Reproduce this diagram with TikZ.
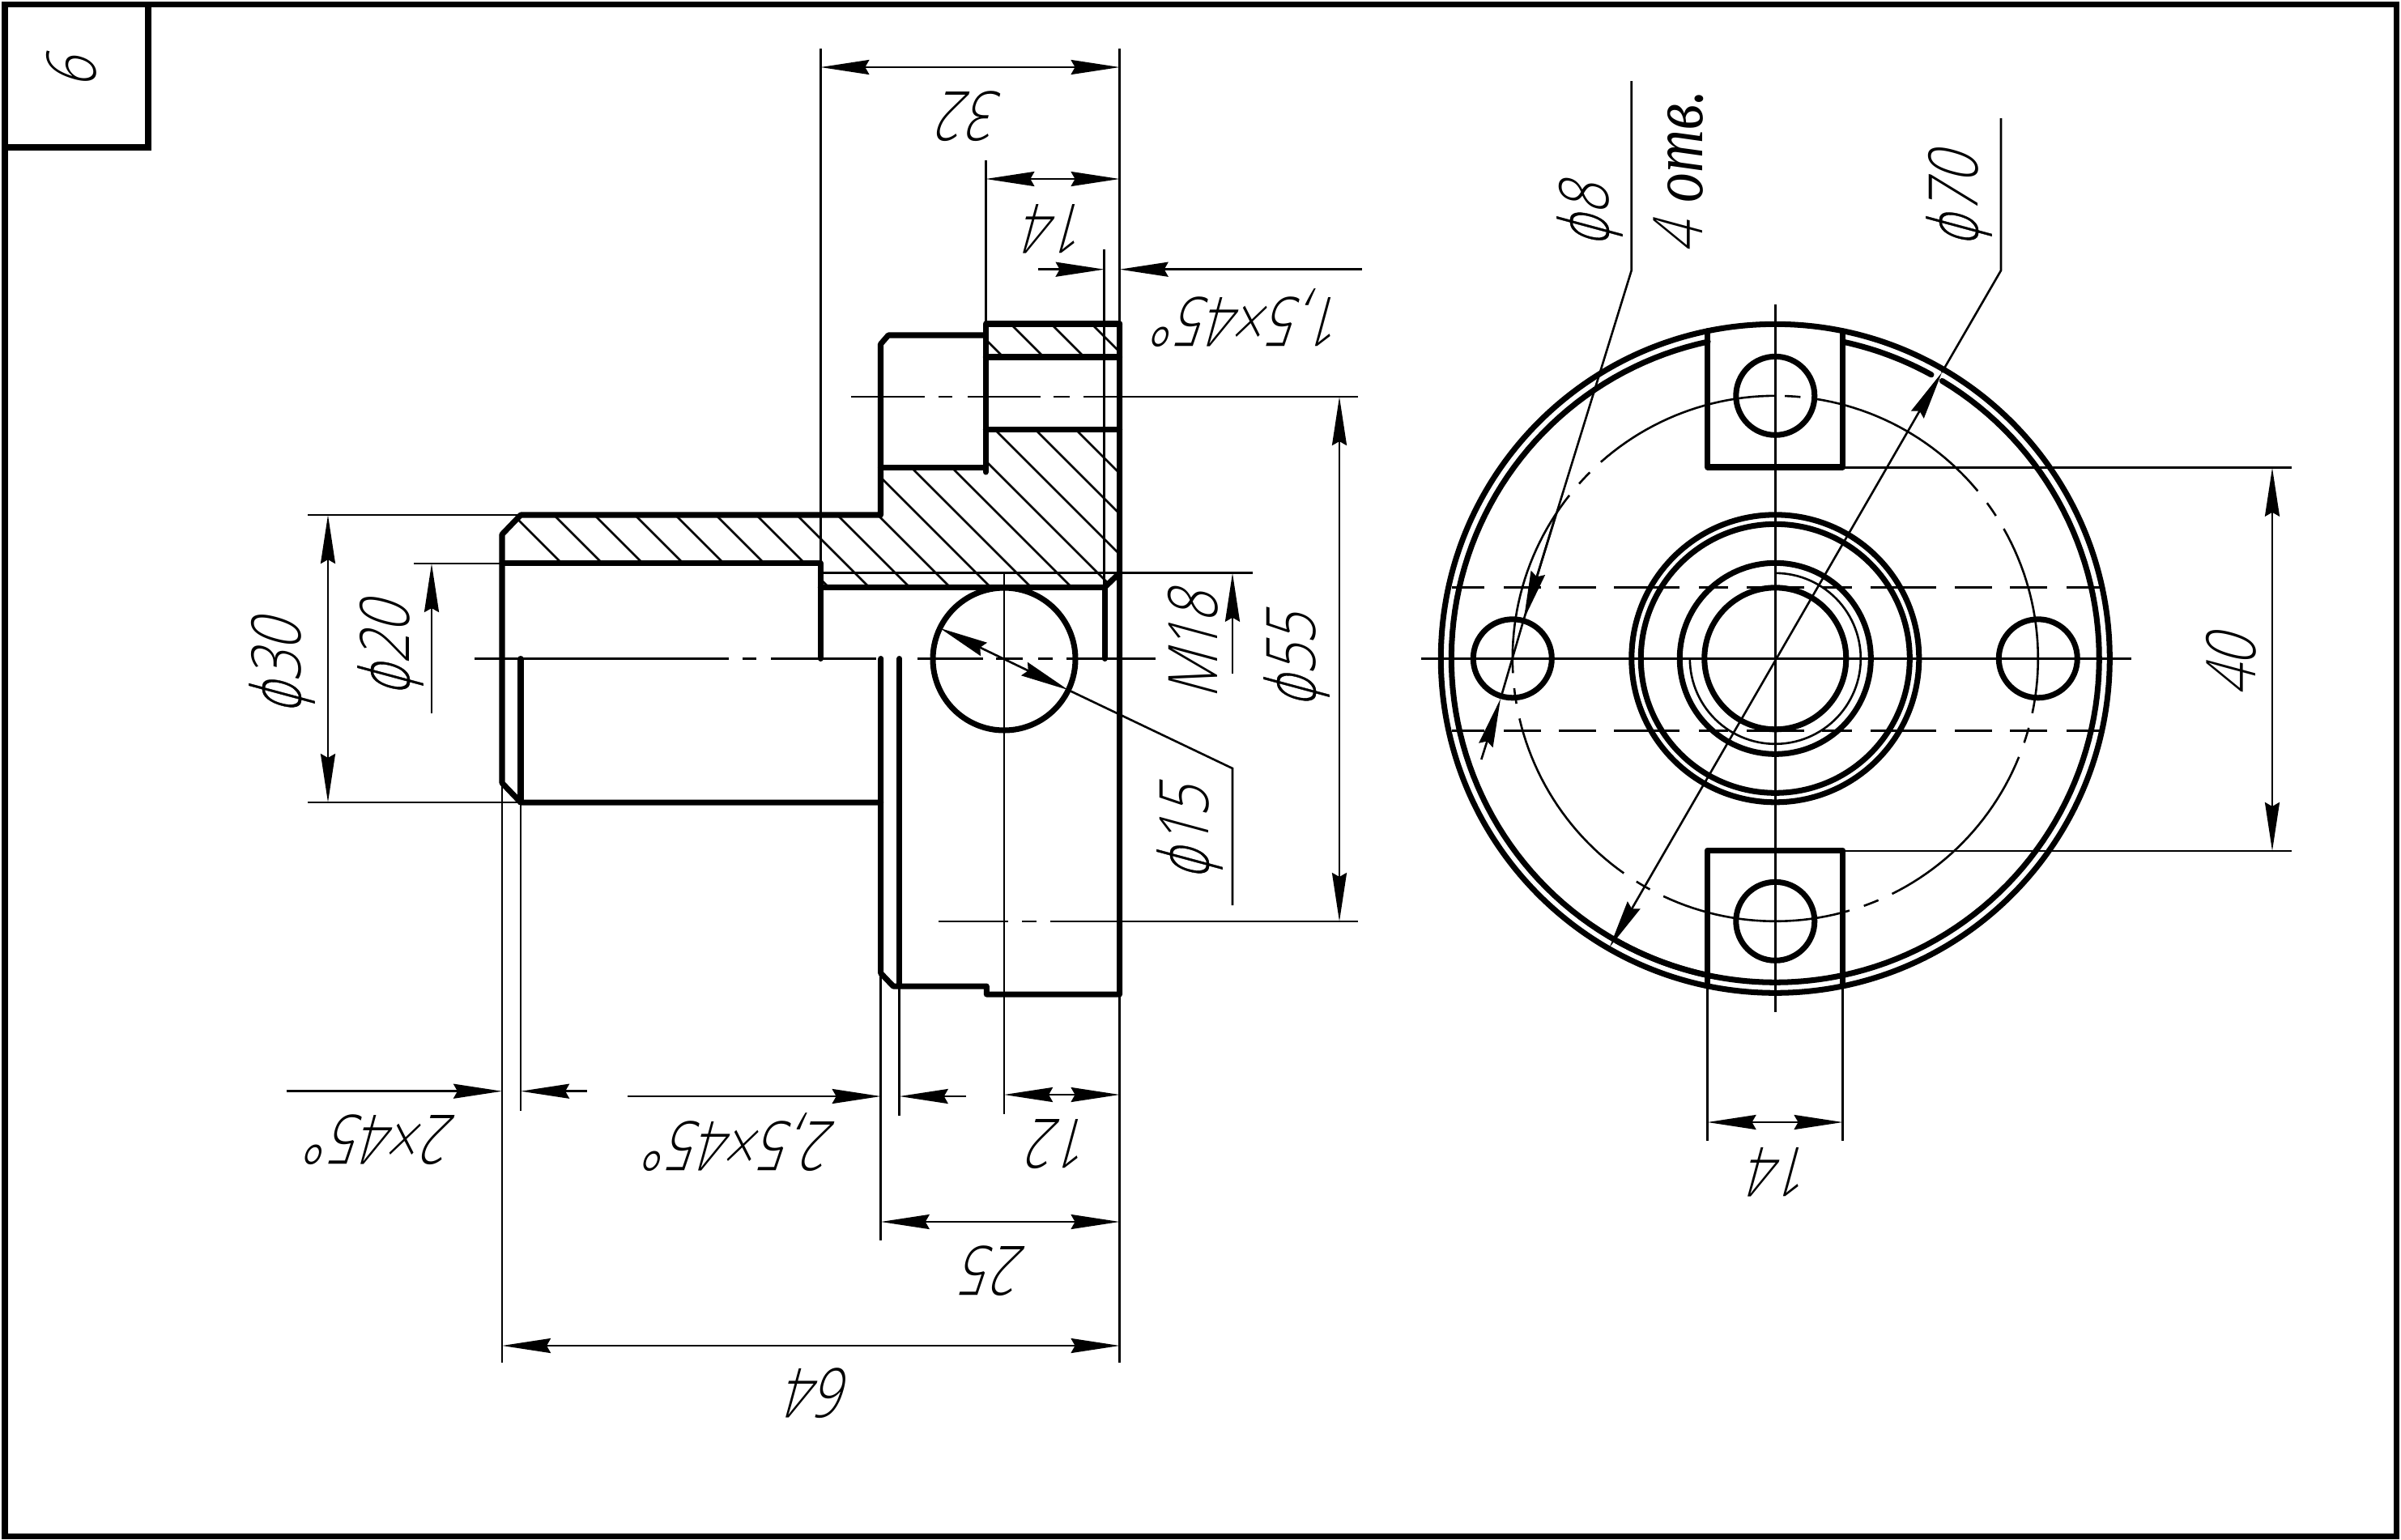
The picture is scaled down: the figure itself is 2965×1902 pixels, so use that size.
\documentclass[tikz,border=0pt]{standalone}
\usepackage{fontspec}
\usetikzlibrary{arrows.meta}
\newfontfamily\gost[FakeStretch=0.78,FakeSlant=0.27]{Open Sans Light}
\newfontfamily\gostphi[FakeStretch=0.72,FakeSlant=0.27,FakeBold=0.4]{DejaVu Sans ExtraLight}
\newfontfamily\gostcyr[FakeStretch=0.8]{Liberation Serif}
\newcommand{\fii}{{\gostphi\fontsize{24}{28}\selectfont ϕ}}
\tikzset{
  x=0.01cm,y=-0.01cm,
  thickl/.style={line width=2pt,line cap=round,line join=round},
  thinl/.style={line width=0.74pt},
  dimar/.style={thinl,{Stealth[length=0.6cm,width=0.18cm,inset=0.05cm]}-{Stealth[length=0.6cm,width=0.18cm,inset=0.05cm]}},
  onear/.style={thinl,-{Stealth[length=0.6cm,width=0.18cm,inset=0.05cm]}},
  lab/.style={font=\gost\fontsize{24}{28}\selectfont,inner sep=0pt},
}
\def\CX{2192.3}\def\CY{813.3}
\begin{document}
\begin{tikzpicture}
\useasboundingbox (0,0) rectangle (2965,1902);
\fill[white] (0,0) rectangle (2965,1902);
% hatching
\begin{scope}
\clip (620,660)--(643,636)--(1087.5,636)--(1087.5,577)--(1217,577)--(1217,530)--(1382,530)--(1382,707)--(1364,725)--(1013,725)--(1013,696)--(620,696)--cycle
      (1217,400)--(1382,400)--(1382,441)--(1217,441)--cycle;
\foreach \c in {-2,48,...,948} \draw[thinl] ({\c+380},380)--({\c+740},740);
\end{scope}
% section: thick outlines
\draw[thickl] (1382.6,400)--(1217.3,400)--(1217.3,583);
\draw[thickl] (1217.3,414)--(1097,414)--(1087.5,425)--(1087.5,636)--(643,636)--(620,660)--(620,967)--(643,991)--(1087.7,991);
\draw[thickl] (1217.3,441)--(1382.6,441);
\draw[thickl] (1217.3,530.3)--(1382.6,530.3);
\draw[thickl] (1087.5,577.3)--(1217.3,577.3);
\draw[thickl] (620,695.5)--(1013.3,695.5)--(1013.3,813.5);
\draw[thickl] (1013.3,725.3)--(1364.2,725.3)--(1382.6,707.7);
\draw[thickl] (1364.2,725.3)--(1364.2,813.5);
\draw[thickl] (643,813.5)--(643,991);
\draw[thickl] (1382.6,400)--(1382.6,1228)--(1218.3,1228)--(1218.3,1218)--(1103,1218)--(1087.7,1202)--(1087.7,813.5);
\draw[thickl] (1110.7,813.5)--(1110.7,1218);
\draw[thickl] (1240,814) circle[radius=88];
% centre lines, front view
\foreach \a/\b in {586/900,917/934,952/1082,1133/1214,1230/1263,1282/1300,1317/1427}
  \draw[thinl] (\a,813.6)--(\b,813.6);
\foreach \a/\b in {1051/1142,1159/1176,1195/1285,1301/1321,1338/1677}
  \draw[thinl] (\a,490)--(\b,490);
\foreach \a/\b in {1159/1245,1262/1280,1297/1677}
  \draw[thinl] (\a,1138)--(\b,1138);
% extension lines, front view
\draw[thinl] (1013.3,60)--(1013.3,696);
\draw[thinl] (1382.6,60)--(1382.6,400);
\draw[thinl] (1217.3,198)--(1217.3,400);
\draw[thinl] (1363.7,308)--(1363.7,725);
\draw[thinl] (1013,707.7)--(1547,707.7);
\draw[thinl] (380,636)--(643,636);
\draw[thinl] (380,991)--(643,991);
\draw[thinl] (511,696)--(620,696);
\draw[thinl] (620,967)--(620,1683);
\draw[thinl] (643,991)--(643,1372);
\draw[thinl] (1087.7,1202)--(1087.7,1532);
\draw[thinl] (1110.7,1218)--(1110.7,1378);
\draw[thinl] (1240,707)--(1240,1376);
\draw[thinl] (1382.6,1228)--(1382.6,1683);
% dimension lines, front view
\draw[dimar] (1013.3,83)--(1382.6,83);
\draw[dimar] (1217.3,221)--(1382.6,221);
\draw[onear] (1282,332.7)--(1363.7,332.7);
\draw[onear] (1681.7,332.7)--(1382.6,332.7);
\draw[dimar] (1654,490)--(1654,1138);
\draw[onear] (1522,832)--(1522,707.7);
\draw[onear] (533,881)--(533,696);
\draw[dimar] (405,636)--(405,991);
\draw[onear] (353.5,1347.7)--(620,1347.7);
\draw[onear] (725,1347.7)--(643,1347.7);
\draw[onear] (775,1354)--(1087.7,1354);
\draw[onear] (1193,1354)--(1110.7,1354);
\draw[dimar] (1240,1352)--(1382.6,1352);
\draw[dimar] (1087.7,1509)--(1382.6,1509);
\draw[dimar] (620,1662)--(1382.6,1662);
\draw[dimar] (1160.7,775.8)--(1319.3,852.2);
\draw[thinl] (1319.3,852.2)--(1522,949)--(1522,1118);
% right view
\begin{scope}[shift={(\CX,\CY)}]
\draw[thickl] (0,0) circle[radius=413];
\draw[thickl] (0,0) circle[radius=177.5];
\draw[thickl] (0,0) circle[radius=166];
\draw[thickl] (0,0) circle[radius=118];
\draw[thickl] (0,0) circle[radius=87.5];
\foreach \cx/\cy in {0/-324.5,0/324.5,-324.5/0,324.5/0}
  \draw[thickl] (\cx,\cy) circle[radius=48.5];
\end{scope}
% chamfer ring, broken at the notches and the leader
\draw[thickl] plot[domain=-78:-119.3,samples=30] ({\CX+400*cos(\x)},{\CY-400*sin(\x)});
\draw[thickl,line cap=butt] plot[domain=-121:-102,samples=15] ({\CX+400*cos(\x)},{\CY-400*sin(\x)}) ;
\draw[thickl] plot[domain=78:61.2,samples=15] ({\CX+400*cos(\x)},{\CY-400*sin(\x)});
\draw[thickl] plot[domain=59:-78,samples=70] ({\CX+400*cos(\x)},{\CY-400*sin(\x)});
\draw[thickl] plot[domain=102:239,samples=70] ({\CX+400*cos(\x)},{\CY-400*sin(\x)});
% thread arc
\draw[thinl] plot[domain=90:-180,samples=90] ({\CX+105.5*cos(\x)},{\CY-105.5*sin(\x)});
% bolt circle
\foreach \k in {0,...,6}{
  \pgfmathsetmacro{\sa}{90+51.6*\k}
  \pgfmathsetmacro{\sb}{\sa+41.6}
  \pgfmathsetmacro{\da}{\sb+3.3}
  \pgfmathsetmacro{\db}{\da+3.4}
  \draw[thinl] plot[domain=\sa:\sb,samples=25] ({\CX+324.5*cos(\x)},{\CY-324.5*sin(\x)});
  \draw[thinl] plot[domain=\da:\db,samples=4] ({\CX+324.5*cos(\x)},{\CY-324.5*sin(\x)});
}
% notches
\draw[thickl] (2108.5,408.7)--(2108.5,577)--(2275.6,577)--(2275.6,408.7);
\draw[thickl] (2108.5,1218)--(2108.5,1050)--(2275.6,1050)--(2275.6,1218);
% centre and hidden lines, right view
\draw[thinl] (1755,813.3)--(2632,813.3);
\draw[thinl] (\CX,376)--(\CX,1250);
\foreach \yy in {725.7,902.7}
 \foreach \a/\b in {1793/1833,1857/1903,1925/1971,1993/2074,2098/2134,2157/2228,2250/2287,2310/2391,2414/2460,2482/2528,2552/2595}
  \draw[thinl] (\a,\yy)--(\b,\yy);
% dimensions, right view
\draw[thinl] (2275.6,577.7)--(2830,577.7);
\draw[thinl] (2275.6,1051)--(2830,1051);
\draw[dimar] (2806,577.7)--(2806,1051);
\draw[thinl] (2108.5,1218)--(2108.5,1409);
\draw[thinl] (2275.6,1218)--(2275.6,1409);
\draw[dimar] (2108.5,1386)--(2275.6,1386);
\draw[thinl] (2014.7,100)--(2014.7,334)--(1881.7,765);
\draw[onear] (1920,640)--(1881.7,765);
\draw[thinl] (1881.7,765)--(1853,863);
\draw[onear] (1829.3,938)--(1853,863);
\draw[thinl] (2471,146)--(2471,334)--(2398,460);
\draw[dimar] (2398,460)--(1987.6,1170);
% frame
\draw[line width=2pt] (6,5.5) rectangle (2959,1897);
\draw[line width=2pt] (6,182)--(183,182)--(183,5.5);
% texts
\node[lab,rotate=90] (v) at (88,91) {6};
\node[lab,rotate=180] (d32) at (1202,144) {32};
\node[lab,rotate=180] (d14a) at (1309,283) {14};
\node[lab,rotate=180] (d15) at (1547,393) {1,5×45°};
\node[lab,rotate=90] (d55) at (1601,817) {\fii55};
\node[lab,rotate=90] (dm) at (1473,798) {M18};
\node[lab,rotate=90] (d15b) at (1469,1030) {\fii15};
\node[lab,rotate=90] (d30) at (348,825) {\fii30};
\node[lab,rotate=90] (d20) at (482,803) {\fii20};
\node[lab,rotate=180] (d2) at (476,1408) {2×45°};
\node[lab,rotate=180] (d25) at (919,1411) {2,5×45°};
\node[lab,rotate=180] (d12) at (1313,1413) {12};
\node[lab,rotate=180] (dd25) at (1232,1570) {25};
\node[lab,rotate=180] (d64) at (1016,1721) {64};
\node[lab,rotate=90] (d8) at (1963,267) {\fii8};
\node[lab,rotate=90] (d4) at (2073,212) {4\hspace{0.3em}{\gostcyr\itshape\fontsize{26}{28}\selectfont отв.}};
\node[lab,rotate=90] (d70) at (2419,248) {\fii70};
\node[lab,rotate=90] (d40) at (2755,823) {40};
\node[lab,rotate=180] (d14b) at (2203,1448) {14};
\end{tikzpicture}
\end{document}
